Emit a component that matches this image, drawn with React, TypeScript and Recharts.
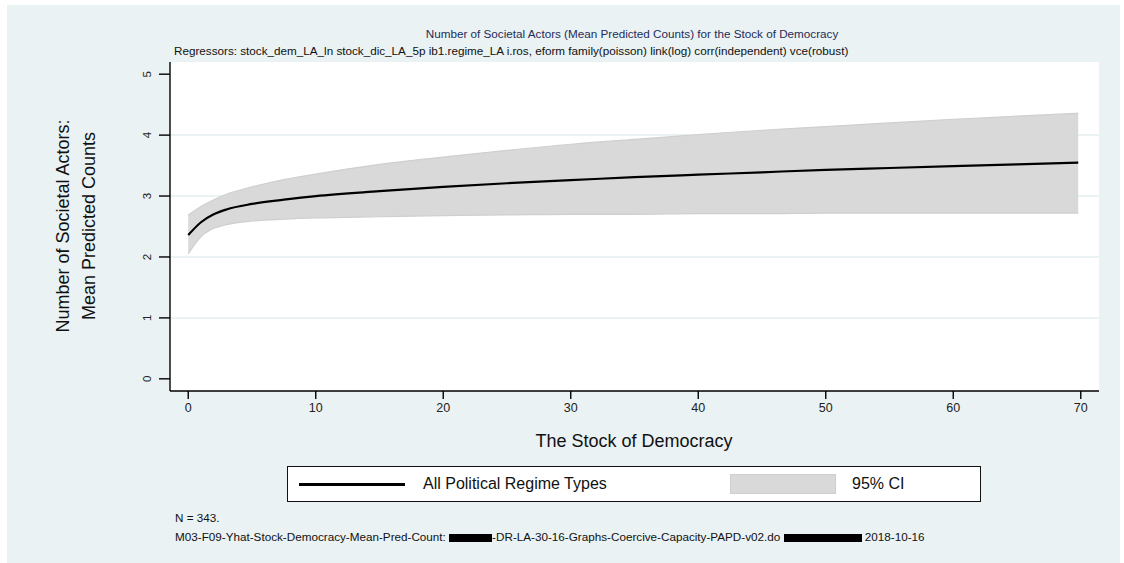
import React from "react";
import { ComposedChart, Area, Line, XAxis, YAxis, CartesianGrid } from "recharts";

// stock of democracy (x) and predicted counts
const stock = [0, 1, 2, 3, 5, 7.5, 10, 15, 20, 25, 30, 35, 40, 45, 50, 55, 60, 65, 69.8];
const meanPred = [2.36, 2.57, 2.7, 2.78, 2.87, 2.94, 3.0, 3.08, 3.15, 3.21, 3.26, 3.31, 3.35, 3.39, 3.43, 3.46, 3.49, 3.52, 3.55];
const ciUpper = [2.69, 2.83, 2.94, 3.03, 3.15, 3.27, 3.36, 3.52, 3.64, 3.75, 3.85, 3.93, 4.01, 4.08, 4.14, 4.2, 4.26, 4.31, 4.36];
const ciLower = [2.05, 2.33, 2.47, 2.53, 2.59, 2.62, 2.64, 2.66, 2.68, 2.69, 2.7, 2.7, 2.71, 2.71, 2.72, 2.72, 2.72, 2.72, 2.72];

const xTicks = [0, 10, 20, 30, 40, 50, 60, 70];
const yTicks = [0, 1, 2, 3, 4, 5];
const gridValues = [1, 2, 3, 4];

const rows = stock.map((s, i) => ({ s, mean: meanPred[i], ci: [ciLower[i], ciUpper[i]] }));

const FONT = "'Liberation Sans', Arial, sans-serif";
const BG = "#EAF2F3";

const YTick = (props: any) => {
  const { x, y, payload } = props;
  return (
    <text x={x} y={y} transform={`rotate(-90 ${x} ${y})`} textAnchor="middle" dy={4} fontSize={11.5} fill="#222" fontFamily={FONT}>
      {payload.value}
    </text>
  );
};

export default function App() {
  return (
    <div style={{ position: "absolute", left: 0, top: 0, width: 1124, height: 563, background: "#fff", fontFamily: FONT, overflow: "hidden" }}>
      <div style={{ position: "absolute", left: 7, top: 5, width: 1113, height: 560, background: BG }} />
      <div style={{ position: "absolute", left: 170, top: 62, width: 929, height: 329, background: "#fff" }} />
      <ComposedChart
        width={1124}
        height={563}
        data={rows}
        margin={{ top: 62, right: 25, bottom: 142, left: 110 }}
        style={{ position: "absolute", left: 0, top: 0 }}
      >
        <CartesianGrid vertical={false} horizontalValues={gridValues} stroke="#E3EEF0" strokeWidth={1.5} />
        <XAxis
          dataKey="s"
          type="number"
          domain={[-1.43, 71.43]}
          ticks={xTicks}
          interval={0}
          height={30}
          axisLine={{ stroke: "#000", strokeWidth: 1.4 }}
          tickLine={{ stroke: "#000", strokeWidth: 1.4 }}
          tickSize={8}
          tickMargin={4}
          tick={{ fontSize: 12.5, fill: "#222", fontFamily: FONT }}
        />
        <YAxis
          type="number"
          domain={[-0.2, 5.2]}
          ticks={yTicks}
          interval={0}
          width={60}
          axisLine={{ stroke: "#000", strokeWidth: 1.4 }}
          tickLine={{ stroke: "#000", strokeWidth: 1.4 }}
          tickSize={11}
          tickMargin={12}
          tick={<YTick />}
        />
        <Area dataKey="ci" type="monotone" fill="#D9D9D9" fillOpacity={1} stroke="#CFCFCF" strokeWidth={1.2} isAnimationActive={false} />
        <Line dataKey="mean" type="monotone" stroke="#000" strokeWidth={2.2} dot={false} isAnimationActive={false} />
      </ComposedChart>

      <div style={{ position: "absolute", left: 0, width: 1264, top: 27, fontSize: 11.7, color: "#1E2D5C", textAlign: "center", lineHeight: "14px" }}>
        Number of Societal Actors (Mean Predicted Counts) for the Stock of Democracy
      </div>
      <div style={{ position: "absolute", left: 174, top: 44, fontSize: 11.7, color: "#111", lineHeight: "14px", whiteSpace: "nowrap" }}>
        Regressors: stock_dem_LA_ln stock_dic_LA_5p ib1.regime_LA i.ros, eform family(poisson) link(log) corr(independent) vce(robust)
      </div>

      <div
        style={{
          position: "absolute", left: 76 - 150, top: 226 - 26, width: 300, height: 52,
          transform: "rotate(-90deg)", textAlign: "center", fontSize: 18, lineHeight: "26px", color: "#111",
        }}
      >
        Number of Societal Actors:<br />Mean Predicted Counts
      </div>

      <div style={{ position: "absolute", left: 0, width: 1268, top: 430, fontSize: 18, textAlign: "center", color: "#111", lineHeight: "22px" }}>
        The Stock of Democracy
      </div>

      <div style={{ position: "absolute", left: 287, top: 466, width: 692, height: 34, background: "#fff", border: "1.5px solid #111" }}>
        <div style={{ position: "absolute", left: 11, top: 16, width: 106, height: 2.5, background: "#000" }} />
        <div style={{ position: "absolute", left: 135, top: 7, fontSize: 16, lineHeight: "20px", color: "#111", whiteSpace: "nowrap" }}>All Political Regime Types</div>
        <div style={{ position: "absolute", left: 442, top: 7, width: 104, height: 18, background: "#D9D9D9", border: "1px solid #CFCFCF" }} />
        <div style={{ position: "absolute", left: 564, top: 7, fontSize: 16, lineHeight: "20px", color: "#111", whiteSpace: "nowrap" }}>95% CI</div>
      </div>

      <div style={{ position: "absolute", left: 175, top: 511, fontSize: 11.7, lineHeight: "14px", color: "#111" }}>N = 343.</div>
      <div style={{ position: "absolute", left: 175, top: 530, fontSize: 11.7, lineHeight: "14px", color: "#111", whiteSpace: "nowrap" }}>
        M03-F09-Yhat-Stock-Democracy-Mean-Pred-Count:{" "}
        <span style={{ display: "inline-block", width: 43, height: 8, background: "#000", verticalAlign: "-1px" }} />
        -DR-LA-30-16-Graphs-Coercive-Capacity-PAPD-v02.do{" "}
        <span style={{ display: "inline-block", width: 78, height: 8, background: "#000", verticalAlign: "-1px" }} />
        {" "}2018-10-16
      </div>
    </div>
  );
}
